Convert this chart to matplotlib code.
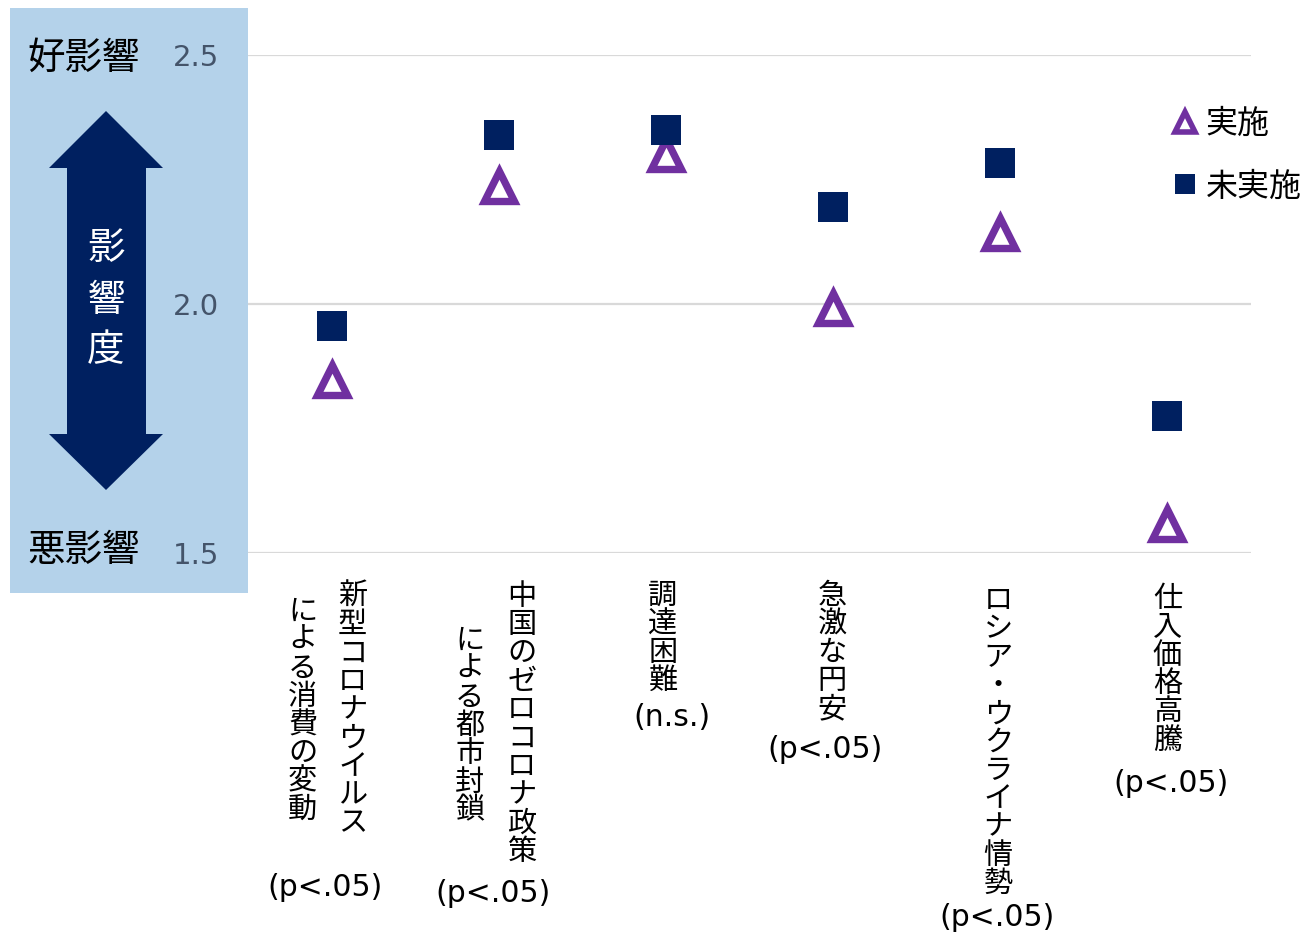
import matplotlib
matplotlib.use("Agg")
import matplotlib.pyplot as plt
from matplotlib.patches import Rectangle, Polygon
from matplotlib.lines import Line2D
from matplotlib.font_manager import FontProperties
import matplotlib.transforms as mtransforms

plt.rcParams['font.family'] = ['Noto Sans CJK JP', 'DejaVu Sans']

# ---------------- data ----------------
# each category label: vertical columns (right column first) + significance note
label_columns = [
    ["新型コロナウイルス", "による消費の変動"],
    ["中国のゼロコロナ政策", "による都市封鎖"],
    ["調達困難"],
    ["急激な円安"],
    ["ロシア・ウクライナ情勢"],
    ["仕入価格高騰"],
]
significance = ["(p<.05)", "(p<.05)", "(n.s.)", "(p<.05)", "(p<.05)", "(p<.05)"]
series_names = ["実施", "未実施"]
jisshi = [1.847, 2.236, 2.302, 1.992, 2.143, 1.559]
mijisshi = [1.956, 2.340, 2.349, 2.194, 2.284, 1.776]
yticks = [1.5, 2.0, 2.5]
ytick_labels = ["1.5", "2.0", "2.5"]
good_label = "好影響"
bad_label = "悪影響"
axis_title = "影響度"

# ---------------- layout / style ----------------
W, H = 1307, 933
fig = plt.figure(figsize=(W / 100, H / 100), dpi=100)
fig.patch.set_facecolor('white')

def fx(px):
    return px / W

def fy(py):
    return 1 - py / H

ax = fig.add_axes([fx(248), fy(553), fx(1251) - fx(248), fy(55) - fy(553)])
ax.patch.set_alpha(0)

purple = '#7030A0'
navy = '#002060'
box_color = '#B4D2EA'
grid_color = '#D9D9D9'
tick_color = '#44546A'

# left panel
fig.patches.append(Rectangle((fx(10), fy(593)), fx(248) - fx(10), fy(8) - fy(593),
                             transform=fig.transFigure, facecolor=box_color,
                             edgecolor='none', zorder=-5))
cx = 106
arrow_pts = [(cx, 111), (163, 168), (146, 168), (146, 434), (163, 434), (cx, 490),
             (49, 434), (67, 434), (67, 168), (49, 168)]
fig.patches.append(Polygon([(fx(x), fy(y)) for x, y in arrow_pts], closed=True,
                           transform=fig.transFigure, facecolor=navy,
                           edgecolor='none', zorder=-4))
for k, ch in enumerate(axis_title):
    fig.text(fx(cx), fy(249 + 51 * k), ch, color='white', fontsize=27,
             ha='center', va='center', zorder=-3)
fig.text(fx(84), fy(58), good_label, fontsize=27, ha='center', va='center', color='black')
fig.text(fx(84), fy(550), bad_label, fontsize=27, ha='center', va='center', color='black')

# data
x = list(range(len(jisshi)))
ax.plot(x, jisshi, ls='none', marker='^', ms=21, mfc='white', mec=purple, mew=5.3,
        zorder=3, clip_on=False)
ax.plot(x, mijisshi, ls='none', marker='s', ms=21, mfc=navy, mec=navy, mew=0,
        zorder=4, clip_on=False)

ax.set_xlim(-0.5, len(x) - 0.5)
ax.set_ylim(1.5, 2.5)
ax.set_yticks(yticks)
ax.set_yticklabels(ytick_labels, fontfamily='DejaVu Sans', fontsize=21, color=tick_color)
ax.tick_params(axis='y', length=0, pad=21)
ax.set_xticks([])
for s in ax.spines.values():
    s.set_visible(False)
ax.grid(axis='y', color=grid_color, lw=1.6, zorder=0)
ax.set_axisbelow(True)

# category labels (vertical text)
trans = mtransforms.blended_transform_factory(ax.transData, ax.transAxes)
col_offsets = [[21, -29], [23, -29], [-3], [-1], [-2], [0]]
col_tops = [[583, 598], [583, 627], [582], [582], [587], [585]]
paren_dx = [-7, -6, 6, -8, -3, 4]
paren_y = [887, 893, 717, 750, 917, 783]
step = 28.3
for i, cols in enumerate(label_columns):
    for c, text in enumerate(cols):
        for k, ch in enumerate(text):
            ax.annotate(ch, xy=(i, 0), xycoords=trans,
                        xytext=(col_offsets[i][c], -(col_tops[i][c] + 14 + step * k - 553)),
                        textcoords='offset pixels', ha='center', va='center',
                        fontsize=21, annotation_clip=False)
    ax.annotate(significance[i], xy=(i, 0), xycoords=trans,
                xytext=(paren_dx[i], -(paren_y[i] - 553)), textcoords='offset pixels',
                ha='center', va='center', fontsize=21.5, fontfamily='DejaVu Sans',
                annotation_clip=False)

# legend
handles = [Line2D([], [], ls='none', marker='^', ms=14, mfc='white', mec=purple, mew=4),
           Line2D([], [], ls='none', marker='s', ms=15, mfc=navy, mec=navy, mew=0)]
leg = ax.legend(handles, series_names, loc='upper left',
                bbox_to_anchor=(fx(1169), fy(108)), bbox_transform=fig.transFigure,
                frameon=False, prop=FontProperties(family='Noto Sans CJK JP', size=23),
                handlelength=1.0, handletextpad=0.15, labelspacing=0.95,
                borderpad=0, borderaxespad=0)

fig.savefig('out.png', dpi=100)
